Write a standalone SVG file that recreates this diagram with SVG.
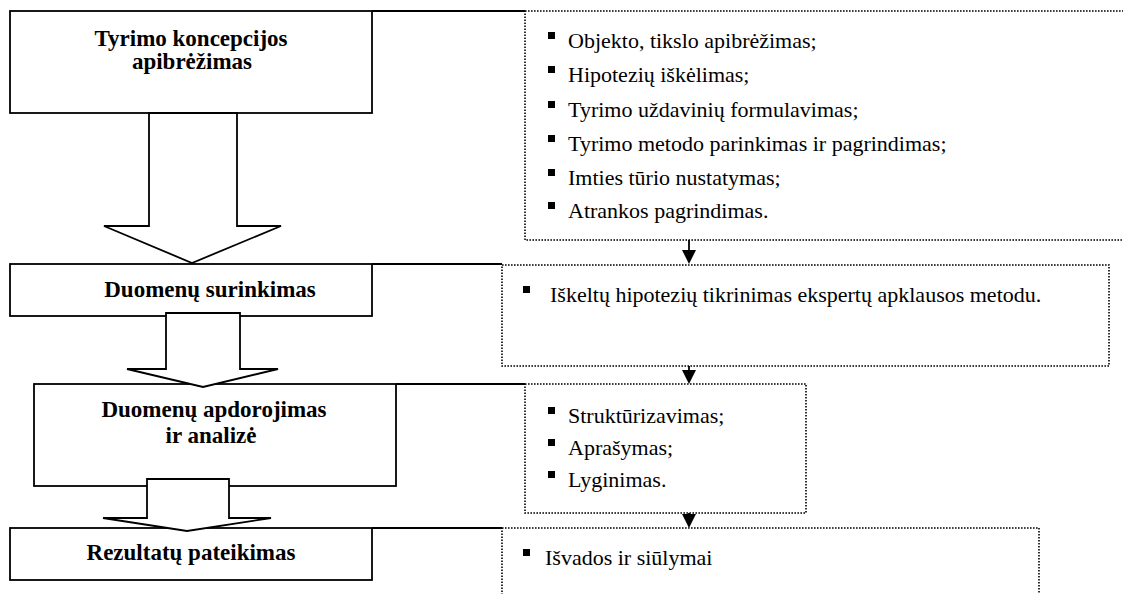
<svg xmlns="http://www.w3.org/2000/svg" width="1123" height="594" viewBox="0 0 1123 594">
<defs>
<style>
.box{fill:#fff;stroke:#000;stroke-width:1.8}
.dot{fill:none;stroke:#000;stroke-width:1.6;stroke-dasharray:1.6 1.4}
.blk{fill:#fff;stroke:#000;stroke-width:1.8;stroke-linejoin:miter}
.ln{fill:none;stroke:#000;stroke-width:1.8}
.ar{fill:none;stroke:#000;stroke-width:1.8;marker-end:url(#ah)}
.t{font-family:"Liberation Serif","Times New Roman",serif;font-weight:bold;font-size:23px;text-anchor:middle;fill:#000}
.li{font-family:"Liberation Serif","Times New Roman",serif;font-size:22px;fill:#000}
.b{fill:#000}
</style>
<marker id="ah" markerWidth="15" markerHeight="13" refX="7.5" refY="13" orient="auto-start-reverse" markerUnits="userSpaceOnUse" viewBox="0 0 15 13">
<path d="M0,0 L15,0 L7.5,13 Z" fill="#000" transform="rotate(-90 7.5 6.5) translate(0 0)"/>
</marker>
<marker id="ah2" markerWidth="14" markerHeight="13" refX="13" refY="7" orient="auto" markerUnits="userSpaceOnUse">
<path d="M0,0 L13,7 L0,14 Z" fill="#000"/>
</marker>
</defs>

<g id="details">
<g id="detail1">
<rect class="dot" x="525" y="11" width="610" height="229"/>
<rect class="b" x="548" y="32" width="7" height="7"/><text class="li" x="568" y="48">Objekto, tikslo apibrėžimas;</text>
<rect class="b" x="548" y="66" width="7" height="7"/><text class="li" x="568" y="82">Hipotezių iškėlimas;</text>
<rect class="b" x="548" y="101" width="7" height="7"/><text class="li" x="568" y="117">Tyrimo uždavinių formulavimas;</text>
<rect class="b" x="548" y="135" width="7" height="7"/><text class="li" x="568" y="151">Tyrimo metodo parinkimas ir pagrindimas;</text>
<rect class="b" x="548" y="169" width="7" height="7"/><text class="li" x="568" y="185">Imties tūrio nustatymas;</text>
<rect class="b" x="548" y="202" width="7" height="7"/><text class="li" x="568" y="218">Atrankos pagrindimas.</text>
</g>
<g id="detail2">
<rect class="dot" x="502" y="265" width="607" height="101"/>
<rect class="b" x="523" y="286" width="7" height="7"/><text class="li" x="550" y="302">Iškeltų hipotezių tikrinimas ekspertų apklausos metodu.</text>
</g>
<g id="detail3">
<rect class="dot" x="525" y="384" width="281" height="129"/>
<rect class="b" x="548" y="407" width="7" height="7"/><text class="li" x="568" y="423">Struktūrizavimas;</text>
<rect class="b" x="548" y="439" width="7" height="7"/><text class="li" x="568" y="455">Aprašymas;</text>
<rect class="b" x="548" y="471" width="7" height="7"/><text class="li" x="568" y="487">Lyginimas.</text>
</g>
<g id="detail4">
<rect class="dot" x="502" y="528" width="537" height="80"/>
<rect class="b" x="523" y="549" width="7" height="7"/><text class="li" x="545" y="565">Išvados ir siūlymai</text>
</g>
</g>

<g id="step1">
<rect class="box" x="10" y="11" width="362" height="102"/>
<text class="t" x="191" y="46">Tyrimo koncepcijos</text>
<text class="t" x="192" y="69">apibrėžimas</text>
</g>
<g id="step2">
<rect class="box" x="10" y="264" width="362" height="52"/>
<text class="t" x="210" y="297">Duomenų surinkimas</text>
</g>
<g id="step3">
<rect class="box" x="34" y="384" width="362" height="102"/>
<text class="t" x="214" y="417">Duomenų apdorojimas</text>
<text class="t" x="211" y="443">ir analizė</text>
</g>
<g id="step4">
<rect class="box" x="10" y="528" width="362" height="52"/>
<text class="t" x="191" y="560">Rezultatų pateikimas</text>
</g>

<g id="connectors">
<polygon class="blk" points="149,113 237,113 237,226 281,226 192,263 104,226 149,226"/>
<polygon class="blk" points="166,313 240,313 240,369 278,369 203,387 127,369 166,369"/>
<polygon class="blk" points="147,479 229,479 229,518 271,518 187,531 103,518 147,518"/>
<line class="ln" x1="372" y1="11" x2="525" y2="11"/>
<line class="ln" x1="372" y1="264" x2="502" y2="264"/>
<line class="ln" x1="396" y1="384" x2="525" y2="384"/>
<line class="ln" x1="372" y1="528" x2="502" y2="528"/>
<path d="M689,240 V252" stroke="#000" stroke-width="1.8"/><path d="M682,250 L696,250 L689,264 Z" fill="#000"/>
<path d="M689,366 V372" stroke="#000" stroke-width="1.8"/><path d="M682,370 L696,370 L689,384 Z" fill="#000"/>
<path d="M689,513 V516" stroke="#000" stroke-width="1.8"/><path d="M682,514 L696,514 L689,528 Z" fill="#000"/>
</g>
</svg>
